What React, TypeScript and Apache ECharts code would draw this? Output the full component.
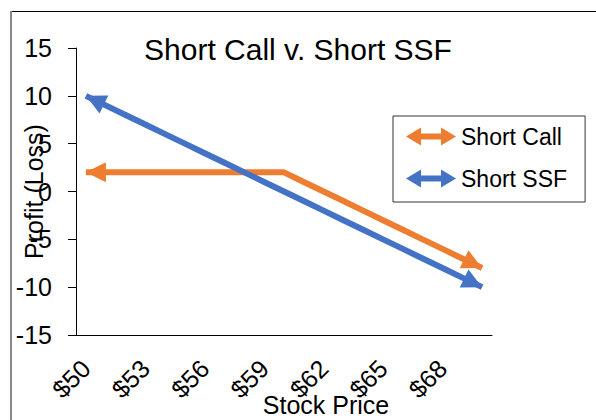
import React, { useEffect, useRef } from "react";
import * as echarts from "echarts";

const categories = [
  "$50", "$51", "$52", "$53", "$54", "$55", "$56", "$57", "$58", "$59", "$60",
  "$61", "$62", "$63", "$64", "$65", "$66", "$67", "$68", "$69", "$70",
];
const shortCall = [2, 2, 2, 2, 2, 2, 2, 2, 2, 2, 2, 1, 0, -1, -2, -3, -4, -5, -6, -7, -8];
const shortSSF = [10, 9, 8, 7, 6, 5, 4, 3, 2, 1, 0, -1, -2, -3, -4, -5, -6, -7, -8, -9, -10];
const seriesNames = ["Short Call", "Short SSF"];
const chartTitle = "Short Call v. Short SSF";
const xName = "Stock Price";
const yName = "Profit (Loss)";
const yMin = -15;
const yMax = 15;
const yStep = 5;

const FONT = "'Liberation Sans', Arial, sans-serif";
const ARROW = 20;
const SLOPE_DEG = 25.8;

function withArrows(values: number[], startRot: number, endRot: number) {
  const rad = (d: number) => (d * Math.PI) / 180;
  // offset so the triangle tip sits on the data point
  const off = (rotDeg: number) => {
    const dirDeg = rotDeg + 90;
    const h = ARROW / 2;
    return [-Math.cos(rad(dirDeg)) * h, Math.sin(rad(dirDeg)) * h];
  };
  return values.map((v, i) => {
    if (i === 0) {
      return { value: v, symbol: "triangle", symbolSize: [ARROW, ARROW], symbolRotate: startRot, symbolOffset: off(startRot) };
    }
    if (i === values.length - 1) {
      return { value: v, symbol: "triangle", symbolSize: [ARROW, ARROW], symbolRotate: endRot, symbolOffset: off(endRot) };
    }
    return { value: v, symbol: "none" };
  });
}

const legendIcon =
  "path://M0,9 L15,0 L15,6 L35,6 L35,0 L50,9 L35,18 L35,12 L15,12 L15,18 Z";

export default function App() {
  const ref = useRef<HTMLDivElement>(null);
  useEffect(() => {
    if (!ref.current) return;
    const chart = echarts.init(ref.current, undefined, { renderer: "svg" });
    chart.setOption({
      animation: false,
      backgroundColor: "#fff",
      color: ["#ED7D31", "#4472C4"],
      textStyle: { fontFamily: FONT, color: "#000" },
      title: {
        text: chartTitle,
        left: "center",
        top: 29,
        textStyle: { fontSize: 30, fontWeight: "normal", color: "#000", fontFamily: FONT },
      },
      graphic: [
        { type: "line", shape: { x1: 11, y1: 11.5, x2: 600, y2: 11.5 }, style: { stroke: "#000", lineWidth: 1 }, z: 100 },
        { type: "line", shape: { x1: 11, y1: 11, x2: 11, y2: 420 }, style: { stroke: "#888", lineWidth: 2 }, z: 100 },
      ],
      legend: {
        orient: "vertical",
        left: 393,
        top: 116,
        backgroundColor: "#fff",
        borderColor: "#333",
        borderWidth: 1,
        padding: [9, 18, 12, 13],
        itemGap: 19,
        itemWidth: 50,
        itemHeight: 18,
        icon: legendIcon,
        textStyle: { fontSize: 23, color: "#000", fontFamily: FONT },
        data: seriesNames,
      },
      grid: { left: 76, right: 104, top: 48, bottom: 85, containLabel: false, outerBoundsMode: "none" },
      xAxis: {
        type: "category",
        data: categories,
        boundaryGap: true,
        axisLine: { onZero: false, lineStyle: { color: "#000", width: 1 } },
        axisTick: { interval: 4, length: 8, lineStyle: { color: "#000" } },
        axisLabel: { interval: 2, rotate: 45, fontSize: 25, margin: 29, color: "#000", fontFamily: FONT },
        name: xName,
        nameLocation: "middle",
        nameGap: 57,
        nameMoveOverlap: false,
        nameTextStyle: { fontSize: 25, color: "#000", fontFamily: FONT, padding: [0, 0, 0, 84] },
      },
      yAxis: {
        type: "value",
        min: yMin,
        max: yMax,
        interval: yStep,
        splitLine: { show: false },
        axisLine: { show: true, lineStyle: { color: "#000", width: 1 } },
        axisTick: { show: true, length: 8, lineStyle: { color: "#000" } },
        axisLabel: { fontSize: 25, margin: 24, color: "#000", fontFamily: FONT },
        name: yName,
        nameLocation: "middle",
        nameGap: 30,
        nameMoveOverlap: false,
        nameTextStyle: { fontSize: 25, color: "#000", fontFamily: FONT },
      },
      series: [
        {
          name: seriesNames[0],
          type: "line",
          data: withArrows(shortCall, 90, -90 - SLOPE_DEG),
          symbol: "none",
          showAllSymbol: true,
          lineStyle: { width: 6 },
          itemStyle: { color: "#ED7D31" },
          z: 3,
        },
        {
          name: seriesNames[1],
          type: "line",
          data: withArrows(shortSSF, 90 - SLOPE_DEG, -90 - SLOPE_DEG),
          symbol: "none",
          showAllSymbol: true,
          lineStyle: { width: 6 },
          itemStyle: { color: "#4472C4" },
          z: 4,
        },
      ],
    });
    return () => chart.dispose();
  }, []);
  return (
    <div
      ref={ref}
      style={{ position: "absolute", left: 0, top: 0, width: 596, height: 420 }}
    />
  );
}
